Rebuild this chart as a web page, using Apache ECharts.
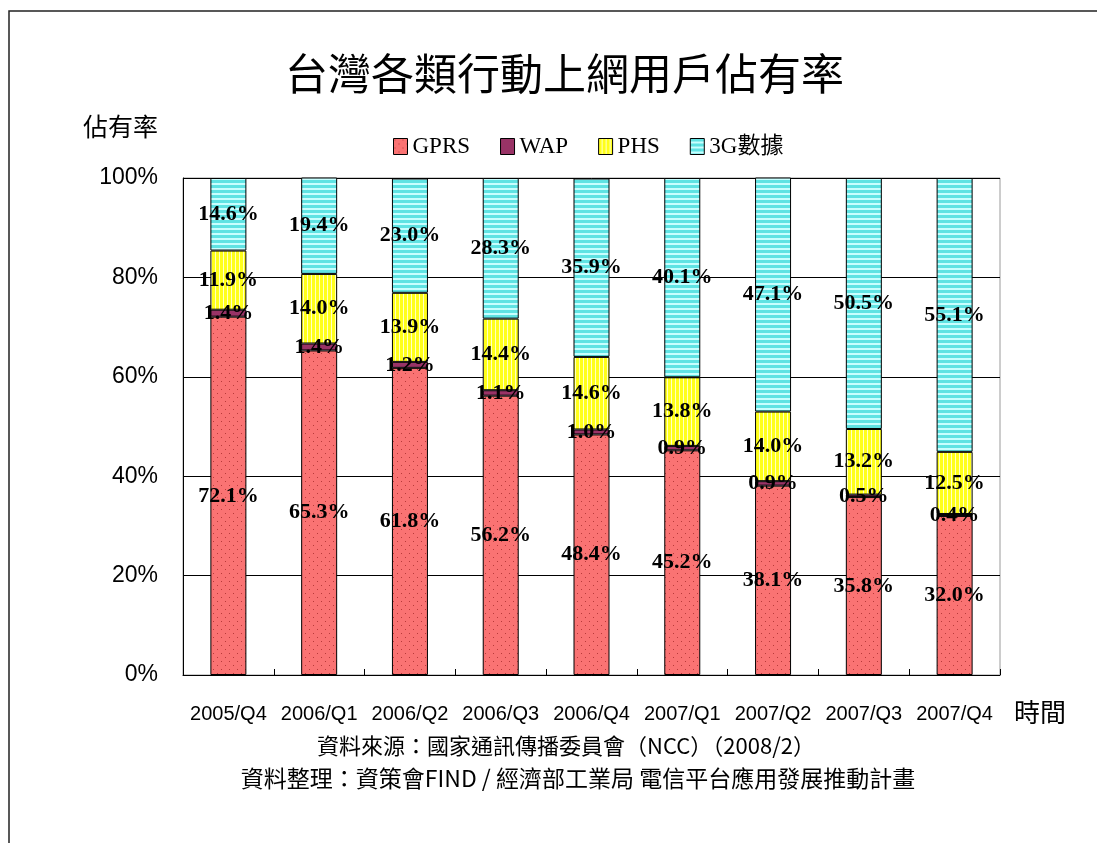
<!DOCTYPE html>
<html>
<head>
<meta charset="utf-8">
<script src="https://cdn.jsdelivr.net/npm/echarts@6/dist/echarts.min.js"></script>
<style>
  html, body { margin: 0; padding: 0; background: #ffffff; }
  #chart { width: 1097px; height: 843px; }
</style>
</head>
<body>
<div id="chart"></div>
<script>
// Quarterly share of mobile internet subscribers by access type (%)
const categories = ['2005/Q4', '2006/Q1', '2006/Q2', '2006/Q3', '2006/Q4', '2007/Q1', '2007/Q2', '2007/Q3', '2007/Q4'];
const gprs = [72.1, 65.3, 61.8, 56.2, 48.4, 45.2, 38.1, 35.8, 32.0];
const wap  = [1.4, 1.4, 1.2, 1.1, 1.0, 0.9, 0.9, 0.5, 0.4];
const phs  = [11.9, 14.0, 13.9, 14.4, 14.6, 13.8, 14.0, 13.2, 12.5];
const g3   = [14.6, 19.4, 23.0, 28.3, 35.9, 40.1, 47.1, 50.5, 55.1];
const seriesNames = ['GPRS', 'WAP', 'PHS', '3G數據'];
const yTickStep = 20;

const TITLE = '台灣各類行動上網用戶佔有率';
const Y_NAME = '佔有率';
const X_NAME = '時間';
const SOURCE = '資料來源：國家通訊傳播委員會（NCC）（2008/2）';
const COMPILER = '資料整理：資策會FIND / 經濟部工業局 電信平台應用發展推動計畫';

// Small repeating fills for the bar segments
function tile(w, h, draw) {
  const c = document.createElement('canvas');
  c.width = w; c.height = h;
  draw(c.getContext('2d'));
  return { image: c, repeat: 'repeat' };
}
const dotFill = tile(8, 8, g => {
  g.fillStyle = '#fa7373'; g.fillRect(0, 0, 8, 8);
  g.fillStyle = '#b83a3a'; g.fillRect(1, 1, 1, 1); g.fillRect(5, 5, 1, 1);
});
const vStripeFill = tile(4, 4, g => {
  g.fillStyle = '#ffff1a'; g.fillRect(0, 0, 4, 4);
  g.fillStyle = '#ffffc4'; g.fillRect(3, 0, 1, 4);
});
const hStripeFill = tile(4, 5, g => {
  g.fillStyle = '#5fe3e3'; g.fillRect(0, 0, 4, 5);
  g.fillStyle = '#c8ffff'; g.fillRect(0, 3, 4, 2);
});
const fills = [dotFill, '#993366', vStripeFill, hStripeFill];
const seriesData = [gprs, wap, phs, g3];

const cjk = '"Noto Sans CJK TC", "Noto Sans CJK SC", sans-serif';
const sans = '"Liberation Sans", sans-serif';
const serif = '"Liberation Serif", "Noto Sans CJK TC", serif';

const chart = echarts.init(document.getElementById('chart'), null, { renderer: 'canvas' });

chart.setOption({
  backgroundColor: '#ffffff',
  animation: false,
  title: {
    text: TITLE,
    left: 280,
    top: 47,
    textStyle: { fontFamily: cjk, fontSize: 43, fontWeight: 'normal', color: '#000' }
  },
  legend: {
    data: seriesNames,
    left: 388,
    top: 130,
    itemWidth: 14,
    itemHeight: 16,
    itemGap: 30,
    icon: 'rect',
    textStyle: { fontFamily: serif, fontSize: 23, color: '#000' },
    itemStyle: { borderColor: '#000', borderWidth: 1 }
  },
  grid: {
    left: 183, top: 178, width: 817, height: 497,
    show: true, borderColor: '#9a9a9a', borderWidth: 1, backgroundColor: 'transparent'
  },
  xAxis: {
    type: 'category',
    data: categories,
    boundaryGap: true,
    axisLine: { lineStyle: { color: '#000', width: 1 } },
    axisTick: { show: true, inside: true, length: 6, lineStyle: { color: '#000' } },
    axisLabel: { interval: 0, fontFamily: sans, fontSize: 20, color: '#000', margin: 29 },
    splitLine: { show: false }
  },
  yAxis: {
    type: 'value',
    min: 0,
    max: 100,
    interval: yTickStep,
    axisLine: { show: true, lineStyle: { color: '#000', width: 1 } },
    axisTick: { show: false },
    axisLabel: { formatter: '{value}%', fontFamily: sans, fontSize: 23, color: '#000', margin: 25 },
    splitLine: { show: true, lineStyle: { color: '#000', width: 1 } }
  },
  series: seriesNames.map((name, i) => ({
    name: name,
    type: 'bar',
    stack: 'share',
    barWidth: 36,
    data: seriesData[i],
    itemStyle: { color: fills[i], borderColor: '#000', borderWidth: 1 },
    label: {
      show: true,
      position: 'inside',
      formatter: p => p.value.toFixed(1) + '%',
      fontFamily: serif,
      fontWeight: 'bold',
      fontSize: 22,
      color: '#000'
    },
    emphasis: { disabled: true }
  })),
  graphic: [
    {
      type: 'rect',
      shape: { x: 9, y: 11, width: 1200, height: 1000 },
      style: { fill: 'none', stroke: '#222', lineWidth: 1.5 },
      silent: true, z: -1
    },
    {
      type: 'text', left: 83, top: 114,
      style: { text: Y_NAME, fontFamily: cjk, fontSize: 25, fill: '#000' }
    },
    {
      type: 'text', left: 1014, top: 699,
      style: { text: X_NAME, fontFamily: cjk, fontSize: 26, fill: '#000' }
    },
    {
      type: 'text', x: 566, y: 746,
      style: { text: SOURCE, fontFamily: cjk, fontSize: 22, fill: '#000', align: 'center', verticalAlign: 'middle' }
    },
    {
      type: 'text', x: 578, y: 778,
      style: { text: COMPILER, fontFamily: cjk, fontSize: 23, fill: '#000', align: 'center', verticalAlign: 'middle' }
    }
  ]
});
</script>
</body>
</html>
